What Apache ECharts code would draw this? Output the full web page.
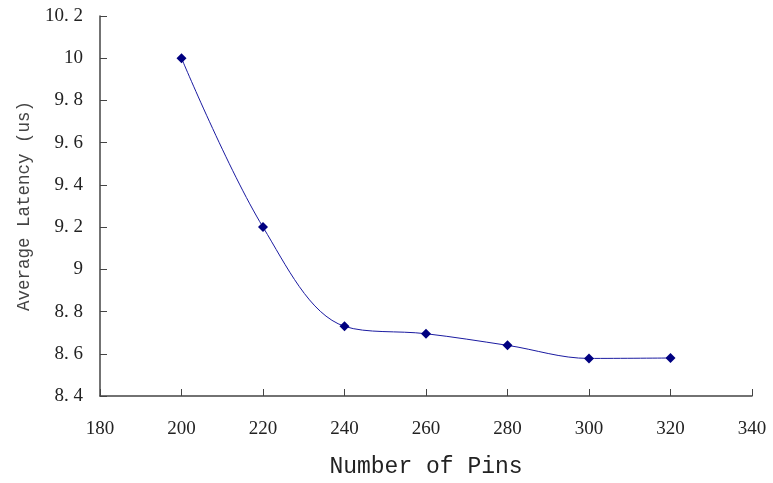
<!DOCTYPE html>
<html><head><meta charset="utf-8">
<script src="https://cdn.jsdelivr.net/npm/echarts@6/dist/echarts.min.js"></script>
<style>html,body{margin:0;padding:0;background:#fff}#c{width:773px;height:483px}</style>
</head><body><div id="c"></div>
<script>
const pins = [200, 220, 240, 260, 280, 300, 320];
const latency = [10.0, 9.2, 8.73, 8.695, 8.64, 8.578, 8.58];
const xTicks = [180, 340, 20];
const yTicks = [8.4, 10.2, 0.2];

const chart = echarts.init(document.getElementById('c'));
const tickFont = {fontFamily: 'Liberation Serif', fontSize: 19, color: '#222'};
chart.setOption({
  animation: false,
  grid: {left: 100, right: 21, top: 16, bottom: 85},
  xAxis: {
    type: 'value', min: xTicks[0], max: xTicks[1], interval: xTicks[2],
    name: 'Number of Pins', nameLocation: 'middle', nameGap: 59,
    nameTextStyle: {fontFamily: 'Liberation Mono', fontSize: 23, color: '#222'},
    axisLine: {lineStyle: {color: '#444', width: 1.5}},
    axisTick: {inside: true, length: 7, lineStyle: {color: '#444'}},
    axisLabel: Object.assign({margin: 24}, tickFont),
    splitLine: {show: false}
  },
  yAxis: {
    type: 'value', min: yTicks[0], max: yTicks[1], interval: yTicks[2],
    name: 'Average Latency (us)', nameLocation: 'middle', nameGap: 67, nameRotate: 90,
    nameTextStyle: {fontFamily: 'Liberation Mono', fontSize: 17.5, color: '#444'},
    axisLine: {show: true, lineStyle: {color: '#444', width: 1.5}},
    axisTick: {show: true, inside: true, length: 7, lineStyle: {color: '#444'}},
    axisLabel: Object.assign({margin: 17, formatter: v => {
      const s = (Math.round(v*10)/10).toString();
      return s.replace('.', '. ');
    }}, tickFont),
    splitLine: {show: false}
  },
  series: [{
    type: 'line', smooth: 0.35,
    data: pins.map((p, i) => [p, latency[i]]),
    symbol: 'diamond', symbolSize: 10,
    itemStyle: {color: '#000080'},
    lineStyle: {color: '#1a1aa0', width: 1}
  }]
});
</script></body></html>
